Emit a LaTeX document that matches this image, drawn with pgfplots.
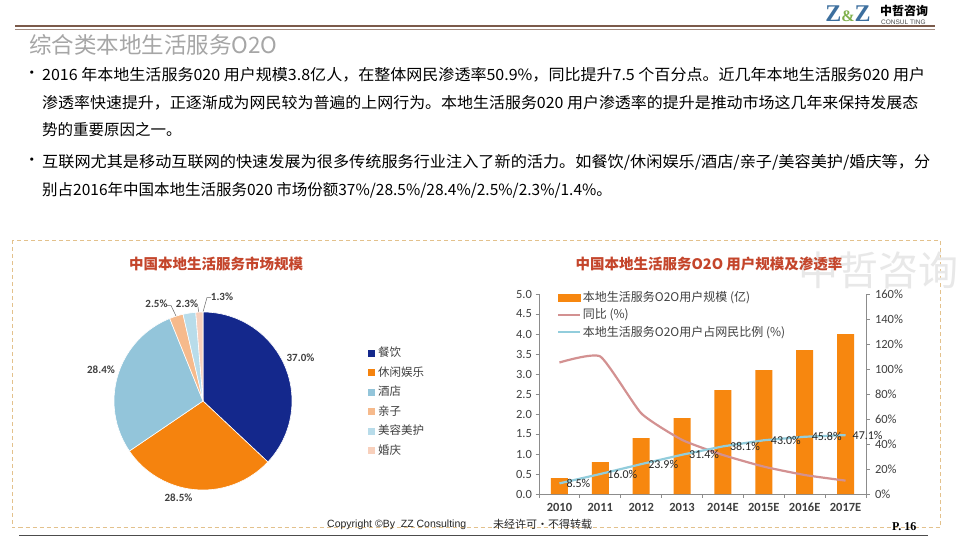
\documentclass[border=0pt]{standalone}
\usepackage{fontspec}
\usepackage{pgfplots}
\pgfplotsset{compat=1.18}
\setmainfont{Noto Sans CJK SC}
\newfontfamily\carlito{Carlito}
\newfontfamily\libsans{Liberation Sans}
\newfontfamily\libserif{Liberation Serif}
\newcommand\fs[1]{\fontsize{#1}{#1}\selectfont}
\definecolor{navy}{HTML}{14288C}
\definecolor{porange}{HTML}{F5830E}
\definecolor{pblue}{HTML}{93C5DA}
\definecolor{ppeach}{HTML}{F6BA8C}
\definecolor{plblue}{HTML}{B8DCEA}
\definecolor{ppink}{HTML}{F8D0BC}
\definecolor{barorange}{HTML}{F7870F}
\definecolor{linepink}{HTML}{D39191}
\definecolor{lineblue}{HTML}{92CDDC}
\definecolor{titlered}{HTML}{C4452B}
\definecolor{brownline}{HTML}{7B5A4A}
\definecolor{dashc}{HTML}{E3C18C}
\definecolor{txtgray}{HTML}{404040}
\definecolor{axisgray}{HTML}{8C8C8C}
\definecolor{logoblue}{HTML}{3D6F9E}
\definecolor{logogreen}{HTML}{7FB04A}
\pgfplotsset{/pgf/number format/assume math mode=true}
\begin{document}
\begin{tikzpicture}
\fill[white] (0pt,0pt) rectangle (960pt,-540pt);
\useasboundingbox (0pt,0pt) rectangle (960pt,-540pt);
\begin{scope}[x=1pt,y=-1pt]
% header
\node[anchor=center, inner sep=0pt, font=\libserif\bfseries\fs{24}] at (848,14) {\textcolor{logoblue}{Z}\textcolor{logogreen}{\fs{16}\&}\textcolor{logoblue}{Z}};
\node[anchor=west, inner sep=0pt, font=\bfseries\fs{12}] at (880,11) {中哲咨询};
\node[anchor=west, inner sep=0pt, font=\libsans\fs{6.5}, text=black!70] at (881,22.5) {CONSUL TING};
\draw[brownline, line width=2.6pt] (15,26) -- (935,26);
\draw[brownline!70, line width=0.6pt] (15,29) -- (935,29);
\node[anchor=west, inner sep=0pt, font=\fs{22.5}, text=black!35] at (29,45) {综合类本地生活服务O2O};
% body text
\begin{scope}[every node/.style={anchor=west, inner sep=0pt, font=\fs{15.5}, text=black}]
\node at (24,75) {•};
\node at (42,75) {\resizebox{883pt}{\height}{2016 年本地生活服务020 用户规模3.8亿人，在整体网民渗透率50.9\%，同比提升7.5 个百分点。近几年本地生活服务020 用户}};
\node at (42,102.5) {\resizebox{876pt}{\height}{渗透率快速提升，正逐渐成为网民较为普遍的上网行为。本地生活服务020 用户渗透率的提升是推动市场这几年来保持发展态}};
\node at (42,130) {势的重要原因之一。};
\node at (24,162) {•};
\node at (42,162) {\resizebox{888pt}{\height}{互联网尤其是移动互联网的快速发展为很多传统服务行业注入了新的活力。如餐饮/休闲娱乐/酒店/亲子/美容美护/婚庆等，分}};
\node at (42,190) {别占2016年中国本地生活服务020 市场份额37\%/28.5\%/28.4\%/2.5\%/2.3\%/1.4\%。};
\end{scope}
% dashed box
\draw[dashc, line width=0.9pt, dash pattern=on 4pt off 3pt] (12,240) rectangle (940,527.5);
% chart titles
\node[font=\bfseries\fs{14.5}, text=titlered] at (216,264) {中国本地生活服务市场规模};
\node[font=\fs{40}, text=black!9] at (878,270) {中哲咨询};
\node[font=\bfseries\fs{14.5}, text=titlered] at (709,264) {中国本地生活服务O2O 用户规模及渗透率};
% pie labels
\begin{scope}[every node/.style={font=\carlito\bfseries\fs{11}, text=txtgray, inner sep=0pt}]
\node at (300.5,358) {37.0\%};
\node at (178.5,497.5) {28.5\%};
\node at (101,370) {28.4\%};
\node at (156.5,304) {2.5\%};
\node at (187,304) {2.3\%};
\node at (222,297) {1.3\%};
\end{scope}
\draw[txtgray!80, line width=0.5pt] (167,305.5) -- (171,305.5) -- (176,316);
\draw[txtgray!80, line width=0.5pt] (198,307) -- (199,315);
\draw[txtgray!80, line width=0.5pt] (211,297.5) -- (207,297.5) -- (203,312);
% pie legend
\begin{scope}[every node/.style={anchor=west, font=\fs{11.5}, text=txtgray, inner sep=0pt}]
\fill[navy] (368,349.5) rectangle (375,356.5); \node at (378,352.5) {餐饮};
\fill[porange] (368,369) rectangle (375,376); \node at (378,372) {休闲娱乐};
\fill[pblue] (368,388.5) rectangle (375,395.5); \node at (378,391.5) {酒店};
\fill[ppeach] (368,408) rectangle (375,415); \node at (378,411) {亲子};
\fill[plblue] (368,427.5) rectangle (375,434.5); \node at (378,430.5) {美容美护};
\fill[ppink] (368,447) rectangle (375,454); \node at (378,450) {婚庆};
\end{scope}
% footer
\node[anchor=west, inner sep=0pt, font=\libsans\fs{10.5}, text=black!85] at (327,524.5) {Copyright ©By\ \ ZZ Consulting};
\node[anchor=west, inner sep=0pt, font=\fs{11}, text=black!85] at (493,524) {未经许可·不得转载};
\node[anchor=west, inner sep=0pt, font=\libserif\bfseries\fs{12}] at (892,527) {P. 16};
\draw[black!70, line width=1.2pt] (19,535.5) -- (928,535.5);
\end{scope}

% pie
\begin{axis}[at={(203pt,-401pt)}, anchor=center, scale only axis, width=178pt, height=178pt,
  xmin=-1, xmax=1, ymin=-1, ymax=1, hide axis, clip=false]
\fill[navy, draw=white, line width=0.6pt] (axis cs:0,0) -- ++(90:89pt) arc[start angle=90, end angle={90-3.6*37.0}, radius=89pt] -- cycle;
\fill[porange, draw=white, line width=0.6pt] (axis cs:0,0) -- ++({90-3.6*37.0}:89pt) arc[start angle={90-3.6*37.0}, end angle={90-3.6*(37.0+28.5)}, radius=89pt] -- cycle;
\fill[pblue, draw=white, line width=0.6pt] (axis cs:0,0) -- ++({90-3.6*(37.0+28.5)}:89pt) arc[start angle={90-3.6*(37.0+28.5)}, end angle={90-3.6*(37.0+28.5+28.4)}, radius=89pt] -- cycle;
\fill[ppeach, draw=white, line width=0.6pt] (axis cs:0,0) -- ++({90-3.6*(37.0+28.5+28.4)}:89pt) arc[start angle={90-3.6*(37.0+28.5+28.4)}, end angle={90-3.6*(37.0+28.5+28.4+2.5)}, radius=89pt] -- cycle;
\fill[plblue, draw=white, line width=0.6pt] (axis cs:0,0) -- ++({90-3.6*(37.0+28.5+28.4+2.5)}:89pt) arc[start angle={90-3.6*(37.0+28.5+28.4+2.5)}, end angle={90-3.6*(37.0+28.5+28.4+2.5+2.3)}, radius=89pt] -- cycle;
\fill[ppink, draw=white, line width=0.6pt] (axis cs:0,0) -- ++({90-3.6*(37.0+28.5+28.4+2.5+2.3)}:89pt) arc[start angle={90-3.6*(37.0+28.5+28.4+2.5+2.3)}, end angle={90-3.6*(37.0+28.5+28.4+2.5+2.3+1.3)}, radius=89pt] -- cycle;
\end{axis}

% bars (left axis)
\begin{axis}[at={(539pt,-494pt)}, anchor=south west, scale only axis, width=327pt, height=200pt,
  xmin=-0.5, xmax=7.5, ymin=0, ymax=5,
  axis x line*=bottom, axis y line*=left,
  axis line style={-, draw=axisgray, line width=0.8pt},
  every tick/.style={draw=axisgray, line width=0.8pt},
  tick align=outside, major tick length=3.5pt,
  xtick={-0.5,0.5,...,7.5}, x tick label as interval,
  xticklabels={2010,2011,2012,2013,2014E,2015E,2016E,2017E},
  ytick={0,0.5,...,5},
  yticklabel style={/pgf/number format/.cd, fixed, fixed zerofill, precision=1},
  tick label style={font=\carlito\fs{12.5}, text=txtgray},
  xticklabel style={font=\carlito\bfseries\fs{12.5}, yshift=-2pt},
  ybar, bar width=17pt]
\addplot[fill=barorange, draw=none] coordinates {(0,0.4) (1,0.8) (2,1.4) (3,1.9) (4,2.6) (5,3.1) (6,3.6) (7,4.0)};
\end{axis}

% lines (right axis)
\begin{axis}[at={(539pt,-494pt)}, anchor=south west, scale only axis, width=327pt, height=200pt,
  xmin=-0.5, xmax=7.5, ymin=0, ymax=160,
  axis y line*=right, axis x line=none,
  axis line style={-, draw=axisgray, line width=0.8pt},
  every tick/.style={draw=axisgray, line width=0.8pt},
  tick align=outside, major tick length=3.5pt,
  ytick={0,20,...,160},
  yticklabel={\pgfmathprintnumber{\tick}\%},
  tick label style={font=\carlito\fs{12.5}, text=txtgray},
  yticklabel style={xshift=2pt},
  clip=false,
  legend style={draw=none, fill=none, at={(0.055,1.02)}, anchor=north west,
    font=\fs{12}, text=txtgray, row sep=2.5pt, inner sep=0pt,
    nodes={inner sep=1.5pt}},
  legend cell align=left,
  legend image code/.code={\draw[#1] (0pt,0pt) -- (22pt,0pt);}]
\addlegendimage{legend image code/.code={\fill[barorange] (0pt,-3.5pt) rectangle (22pt,3.5pt);}}
\addlegendentry{本地生活服务O2O用户规模 (亿)}
\addplot[linepink, line width=2.2pt, smooth, tension=0.3] coordinates {(0,105.2) (1,110) (2,64.6) (3,43.3) (4,31.2) (5,21.9) (6,15.2) (7,10.7)};
\addlegendentry{同比 (\%)}
\addplot[lineblue, line width=2.2pt, point meta=y,
  nodes near coords={\pgfmathprintnumber[fixed,fixed zerofill,precision=1]{\pgfplotspointmeta}\%},
  every node near coord/.append style={anchor=west, xshift=5pt, font=\carlito\fs{12}, text=black!85, inner sep=1pt}]
  coordinates {(0,8.5) (1,16.0) (2,23.9) (3,31.4) (4,38.1) (5,43.0) (6,45.8) (7,47.1)};
\addlegendentry{本地生活服务O2O用户占网民比例 (\%)}
\end{axis}
\end{tikzpicture}
\end{document}
